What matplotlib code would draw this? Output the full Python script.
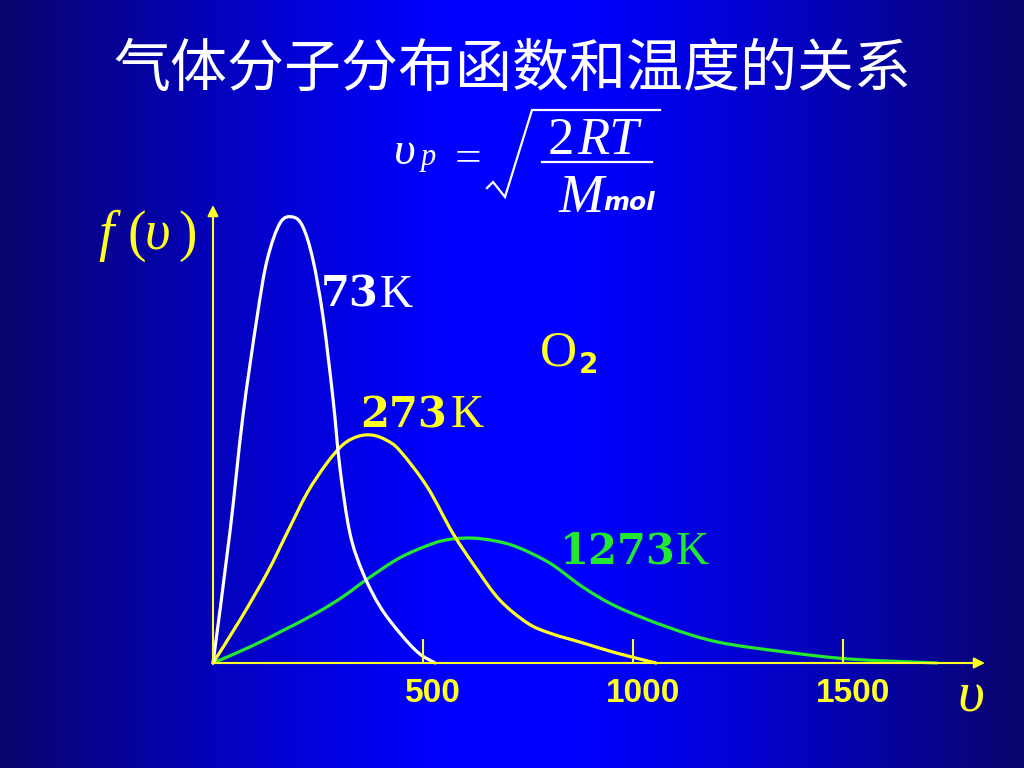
import numpy as np
import matplotlib
matplotlib.use("Agg")
import matplotlib.pyplot as plt
from matplotlib.lines import Line2D
from matplotlib.path import Path
from matplotlib.patches import PathPatch
from matplotlib.transforms import ScaledTranslation

# ---------------- data ----------------
title = "气体分子分布函数和温度的关系"

v_73 = [0, 40, 71, 105, 129, 160, 190, 214, 238, 262, 286, 302, 326, 357, 398, 445, 490, 529]
f_73 = [0, 29.1, 55.2, 77.6, 90.4, 98.7, 100.0, 97.8, 90.4, 77.6, 59.0, 43.9, 29.1, 20.2, 12.6, 6.7, 2.2, 0]

v_273 = [0, 64, 129, 176, 224, 271, 310, 345, 379, 412, 445, 510, 571, 629, 683, 748, 802, 881, 962, 1055]
f_273 = [0, 9.6, 20.2, 29.1, 38.1, 44.8, 49.0, 50.8, 51.1, 50.0, 47.6, 39.5, 29.1, 20.9, 14.1, 9.0, 6.7, 4.5, 2.2, 0]

v_1273 = [0, 88, 167, 248, 310, 367, 445, 524, 570, 619, 670, 724, 802, 881, 962, 1081, 1202, 1360, 1514, 1724]
f_1273 = [0, 3.6, 7.3, 11.3, 14.9, 18.8, 23.6, 26.8, 27.8, 28.0, 27.4, 26.0, 22.4, 17.0, 12.6, 8.1, 4.7, 2.5, 0.9, 0]

tick_values = [500, 1000, 1500]
tick_labels = ["500", "1000", "1500"]

series_labels = ["73", "273", "1273"]

# ---------------- styling ----------------
W, H = 1024, 768
YEL = "#FFFF22"
GRN = "#22E830"
WHT = "#FFFFFF"

def fx(px):
    return px / W

def fy(py):
    return 1 - py / H

fig = plt.figure(figsize=(W / 100, H / 100), dpi=100)

# background gradient (dark navy at the sides, bright blue in the middle)
ax_bg = fig.add_axes([0, 0, 1, 1])
xs = np.linspace(0, 1, 512)
t = np.abs(xs - 0.5) / 0.5
s = np.clip((t - 0.12) / 0.88, 0, 1) ** 1.2
center = np.array([0.0, 0.0, 1.0])
edge = np.array([0.04, 0.02, 0.42])
row = center[None, :] * (1 - s[:, None]) + edge[None, :] * s[:, None]
img = np.repeat(row[None, :, :], 4, axis=0)
ax_bg.imshow(img, aspect="auto", extent=[0, 1, 0, 1], interpolation="bilinear")
ax_bg.set_axis_off()

# chart axes: origin at pixel (213, 663)
x0, y0 = 213, 663
sx, sy = 0.42, 4.46
ax_w, ax_h = 780, 462
ax = fig.add_axes([fx(x0), fy(y0), ax_w / W, ax_h / H])
ax.set_facecolor("none")
ax.set_xlim(0, ax_w / sx)
ax.set_ylim(0, ax_h / sy)
for sp in ax.spines.values():
    sp.set_visible(False)
ax.set_yticks([])


def smooth_curve(ax, x, y, color, lw=2.3):
    """Draw a smooth line through the data points (Catmull-Rom as cubic Bezier)."""
    pts = np.column_stack([x, y]).astype(float)
    n = len(pts)
    verts = [pts[0]]
    codes = [Path.MOVETO]
    for i in range(n - 1):
        p0 = pts[max(i - 1, 0)]
        p1 = pts[i]
        p2 = pts[i + 1]
        p3 = pts[min(i + 2, n - 1)]
        c1 = p1 + (p2 - p0) / 6.0
        c2 = p2 - (p3 - p1) / 6.0
        verts += [c1, c2, p2]
        codes += [Path.CURVE4] * 3
    patch = PathPatch(Path(verts, codes), facecolor="none", edgecolor=color, lw=lw,
                      capstyle="round", joinstyle="round", clip_on=False)
    ax.add_patch(patch)


smooth_curve(ax, v_1273, f_1273, GRN)
smooth_curve(ax, v_273, f_273, YEL)
smooth_curve(ax, v_73, f_73, WHT)

# axes arrows
xmax = (985 - x0) / sx
ymax = (y0 - 205) / sy
ax.annotate("", xy=(xmax, 0), xytext=(0, 0),
            arrowprops=dict(arrowstyle="-|>", color=YEL, lw=1.5, mutation_scale=16,
                            shrinkA=0, shrinkB=0), annotation_clip=False)
ax.annotate("", xy=(0, ymax), xytext=(0, 0),
            arrowprops=dict(arrowstyle="-|>", color=YEL, lw=1.5, mutation_scale=16,
                            shrinkA=0, shrinkB=0), annotation_clip=False)

# ticks
ax.set_xticks(tick_values)
ax.set_xticklabels(tick_labels, fontfamily="Liberation Sans", fontweight="bold", fontsize=24)
ax.tick_params(axis="x", direction="in", length=17, width=1.5, color=YEL,
               labelcolor=YEL, pad=11)
for lab in ax.get_xticklabels():
    lab.set_transform(lab.get_transform() + ScaledTranslation(0.1, 0, fig.dpi_scale_trans))

# ---------------- texts ----------------
def ftext(px, py, s, **k):
    k.setdefault("ha", "left")
    k.setdefault("va", "baseline")
    fig.text(fx(px), fy(py), s, **k)

# title
fig.text(0.5, fy(70), title, color=WHT, fontsize=41, ha="center", va="center",
         family=["Noto Sans CJK SC", "DejaVu Sans"])

# formula v_p = sqrt(2RT / M_mol)
SER = "Liberation Serif"
ftext(394, 164, "υ", color=WHT, fontsize=34, family=SER, style="italic")
ftext(421, 165, "p", color=WHT, fontsize=22, family=SER, style="italic")
ftext(455, 171, "=", color=WHT, fontsize=34, family=SER)
sq_x = [487, 493, 505, 532, 660]
sq_y = [188, 182, 197, 110, 110]
fig.add_artist(Line2D([fx(p) for p in sq_x], [fy(p) for p in sq_y], color=WHT, lw=1.6,
                      transform=fig.transFigure, solid_joinstyle="miter"))
ftext(548, 154, "2", color=WHT, fontsize=38, family=SER)
ftext(577, 154, "RT", color=WHT, fontsize=38, family=SER, style="italic")
fig.add_artist(Line2D([fx(542), fx(652)], [fy(162), fy(162)], color=WHT, lw=1.6,
                      transform=fig.transFigure))
ftext(559, 212, "M", color=WHT, fontsize=39, family=SER, style="italic")
ftext(603, 210, "mol", color=WHT, fontsize=18, family="DejaVu Sans",
      style="oblique", fontweight="bold")

# f(v) label
ftext(98, 250, "f", color=YEL, fontsize=40, family=SER, style="italic")
ftext(127, 250, "(", color=YEL, fontsize=40, family=SER)
ftext(145, 250, "υ", color=YEL, fontsize=40, family=SER, style="italic")
ftext(178, 250, ")", color=YEL, fontsize=40, family=SER)

# v axis label
ftext(957, 712, "υ", color=YEL, fontsize=42, family=SER, style="italic")

# curve labels
BS = "DejaVu Serif"
ftext(321, 307, series_labels[0], color=WHT, fontsize=30, family=BS, fontweight="bold")
ftext(380, 307, "K", color=WHT, fontsize=33, family=SER)
ftext(360, 427, series_labels[1], color=YEL, fontsize=30, family=BS, fontweight="bold")
ftext(451, 427, "K", color=YEL, fontsize=33, family=SER)
ftext(560, 564, series_labels[2], color=GRN, fontsize=30, family=BS, fontweight="bold")
ftext(676, 564, "K", color=GRN, fontsize=33, family=SER)

# O2
ftext(540, 366, "O", color=YEL, fontsize=37, family=SER)
ftext(579, 373, "2", color=YEL, fontsize=20, family="DejaVu Sans", fontweight="bold")

fig.savefig("out.png", dpi=100)
